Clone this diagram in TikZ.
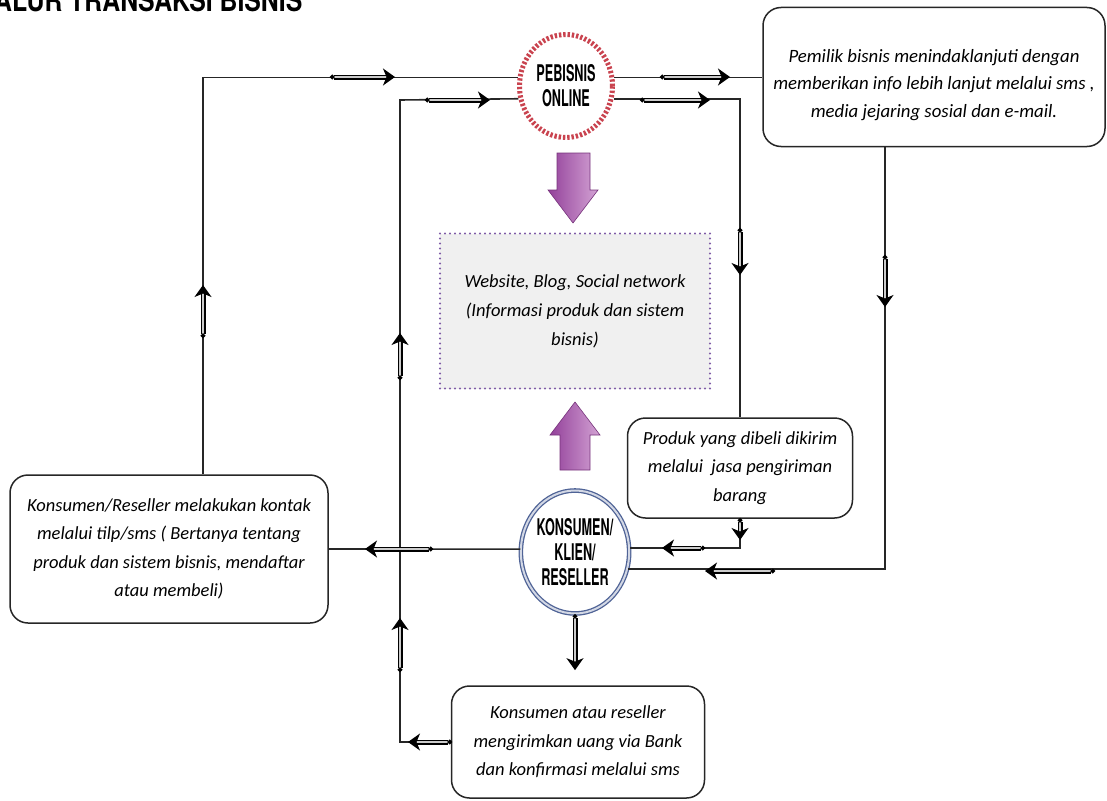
\documentclass[tikz,border=0pt]{standalone}
\usepackage{fontspec}
\setmainfont{Carlito}
\newfontfamily\condfont[FakeStretch=0.55]{TeX Gyre Heros}
\newfontfamily\titlefont[FakeStretch=0.8]{TeX Gyre Heros}
\usetikzlibrary{arrows.meta,shapes.geometric}
\definecolor{pinkred}{HTML}{C9434F}
\definecolor{kblue}{HTML}{4F6396}
\definecolor{dotpurple}{HTML}{7E5BA6}
\definecolor{arrpurpleA}{HTML}{93409A}
\definecolor{arrpurpleB}{HTML}{D3A3D4}
\tikzset{
  flow/.style={draw=black!85, line width=1.6pt},
  pointer/.style={draw=black, line width=1.3pt, double=black!20, double distance=2.4pt,
    {Circle[length=4.5pt]}-{Stealth[length=12pt,width=17pt,inset=3.5pt]}},
  info/.style={draw=black!85, line width=1.5pt, rounded corners=18pt, align=center,
    font=\itshape\fontsize{18.5}{28.5}\selectfont, inner sep=0pt},
  actor/.style={ellipse, align=center, font=\condfont\bfseries\fontsize{23}{25}\selectfont, inner sep=0pt},
  bigarrow/.style={draw=arrpurpleA!80!black, line width=0.6pt, left color=arrpurpleA, right color=arrpurpleB}
}

\begin{document}
\begin{tikzpicture}[x=1pt, y=-1pt]
  \useasboundingbox (0,0) rectangle (1107,800);

  \node[anchor=base west, inner sep=0pt, font=\titlefont\bfseries\fontsize{31}{31}\selectfont] (title) at (-6,12) {ALUR TRANSAKSI BISNIS};

  \node[actor, draw=pinkred, line width=5pt, dash pattern=on 2.4pt off 1.9pt,
    minimum width=93, minimum height=103] (pbs) at (566,86) {PEBISNIS\\ONLINE};
  \node[actor, draw=kblue, line width=1.3pt, double=kblue!25, double distance=2pt,
    minimum width=95, minimum height=123] (kons) at (575,552) {KONSUMEN/\\KLIEN/\\RESELLER};

  \node[draw=dotpurple, line width=2.4pt, dash pattern=on 0pt off 5pt, line cap=round,
    fill=black!6, minimum width=270, minimum height=155, align=center,
    font=\itshape\fontsize{18.5}{29}\selectfont] (web) at (575,311)
    {Website, Blog, Social network\\(Informasi produk dan sistem\\bisnis)};

  \node[info, minimum width=342, minimum height=139, font=\itshape\fontsize{18.8}{27.5}\selectfont] (pem) at (934,77)
    {\rule{0pt}{29pt}Pemilik bisnis menindaklanjuti dengan\\memberikan info lebih lanjut melalui sms ,\\media jejaring sosial dan e-mail.};
  \node[info, minimum width=225, minimum height=100] (prod) at (740,468)
    {Produk yang dibeli dikirim\\melalui~ jasa pengiriman\\barang};
  \node[info, minimum width=318, minimum height=148] (lbox) at (169,549)
    {Konsumen/Reseller melakukan kontak\\melalui tilp/sms ( Bertanya tentang\\produk dan sistem bisnis, mendaftar\\atau membeli)};
  \node[info, minimum width=253, minimum height=112] (bbox) at (578,742)
    {Konsumen atau reseller\\mengirimkan uang via Bank\\dan konfirmasi melalui sms};

  \shadedraw[bigarrow] (557,153) -- (590,153) -- (590,190) -- (598,190) -- (573,223)
    -- (548,190) -- (557,190) -- cycle;
  \shadedraw[bigarrow] (560,470) -- (590,470) -- (590,435) -- (600,435) -- (575,402)
    -- (550,435) -- (560,435) -- cycle;

  \coordinate (lcor) at (400,100);
  \draw[flow] ([xshift=34]lbox.north) |- (pbs.170);
  \draw[flow] (bbox.west) -| (lcor) -- (pbs.195);
  \draw[flow] (kons.177) -- (lbox.east);
  \draw[flow] (pbs.10) -- (pbs.10 -| pem.west);
  \draw[flow] (pbs.345) -| (prod.north);
  \draw[flow] ([xshift=-49]pem.south) |- (kons.342);
  \draw[flow] (prod.south) |- (kons.4);
  \draw[pointer] (kons.south) -- ++(0,56);

  \draw[pointer] (330,77) -- (395,77);
  \draw[pointer] (203,338) -- (203,285);
  \draw[pointer] (425,100) -- (490,100);
  \draw[pointer] (400,380) -- (400,333);
  \draw[pointer] (400,672) -- (400,618);
  \draw[pointer] (452,742) -- (408,742);
  \draw[pointer] (433,549) -- (365,549);
  \draw[pointer] (660,77) -- (730,77);
  \draw[pointer] (640,100) -- (710,100);
  \draw[pointer] (740,228) -- (740,275);
  \draw[pointer] (885,255) -- (885,307);
  \draw[pointer] (775,571) -- (705,571);
  \draw[pointer] (740,518) -- (740,540);
  \draw[pointer] (705,548) -- (662,548);
\end{tikzpicture}
\end{document}
